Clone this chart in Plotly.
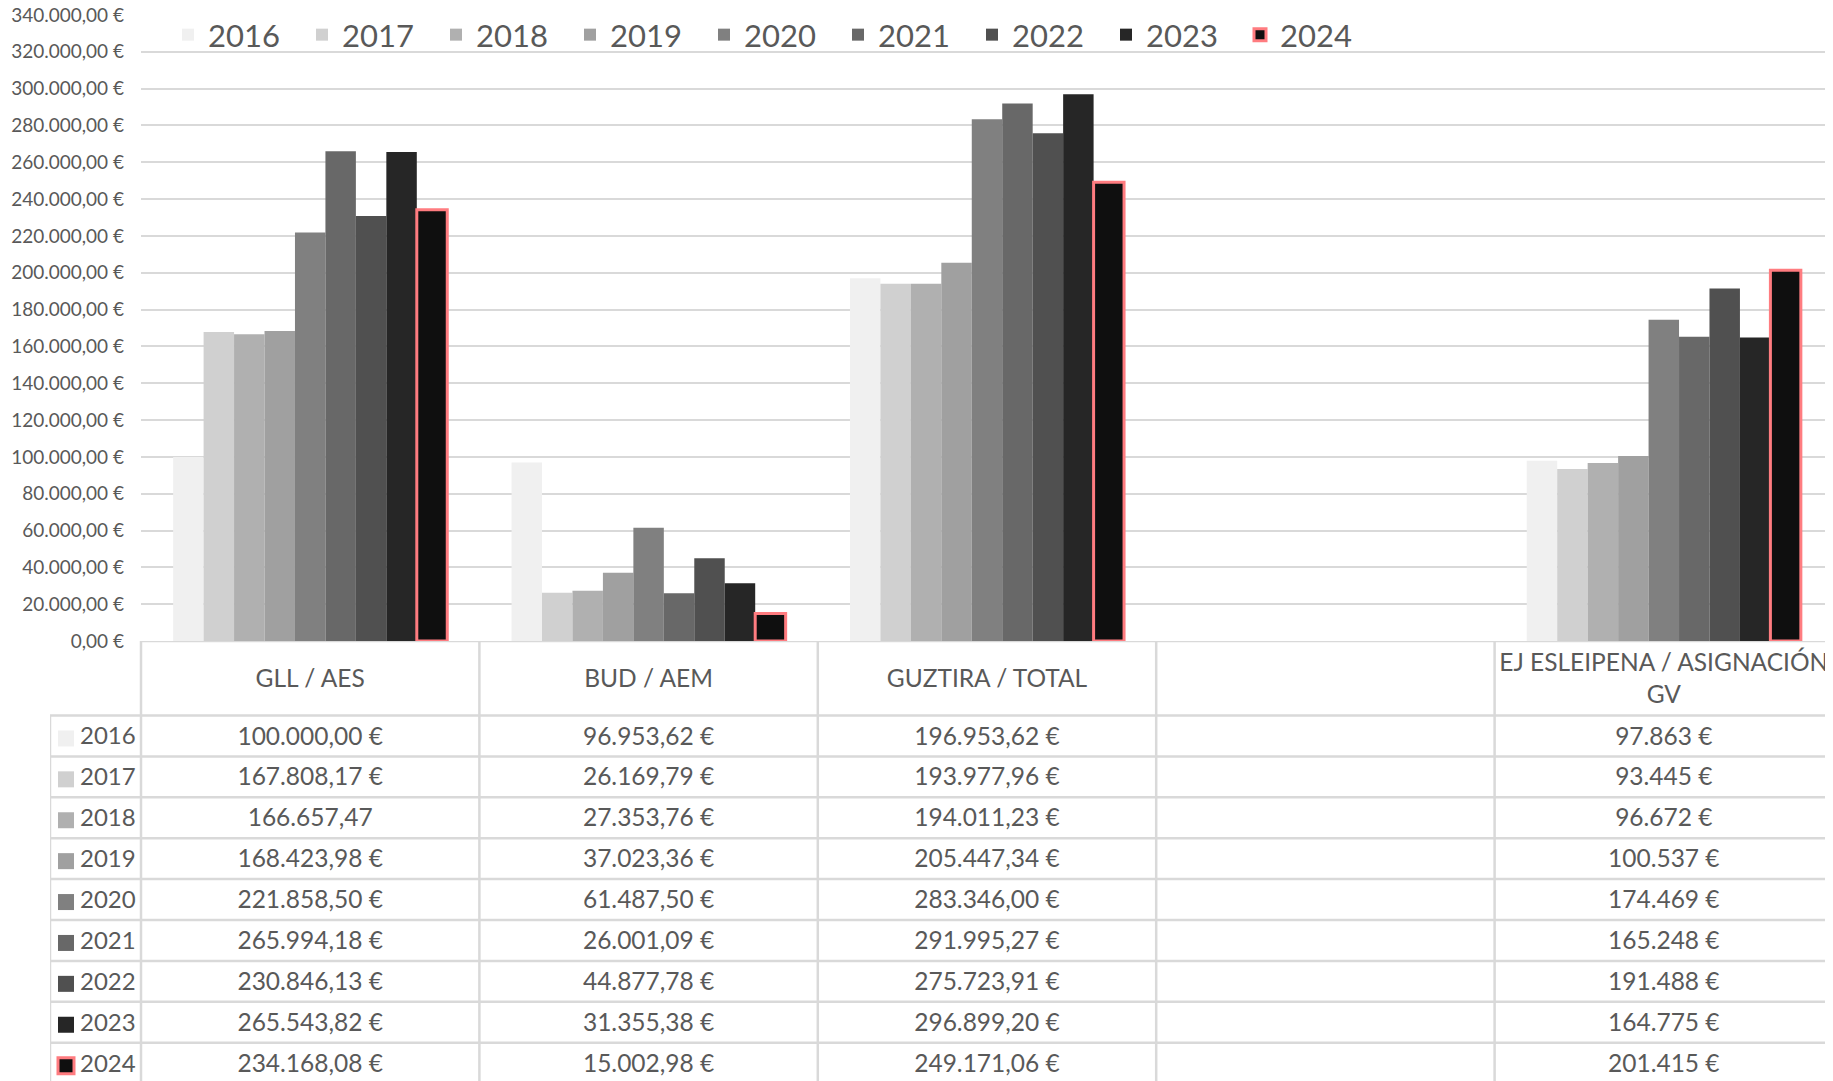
import plotly.graph_objects as go

# data
years = ["2016", "2017", "2018", "2019", "2020", "2021", "2022", "2023", "2024"]
categories = ["GLL / AES", "BUD / AEM", "GUZTIRA / TOTAL", " ", "EJ ESLEIPENA / ASIGNACIÓN<br>GV"]

gll_aes = [100000.00, 167808.17, 166657.47, 168423.98, 221858.50, 265994.18, 230846.13, 265543.82, 234168.08]
bud_aem = [96953.62, 26169.79, 27353.76, 37023.36, 61487.50, 26001.09, 44877.78, 31355.38, 15002.98]
guztira = [196953.62, 193977.96, 194011.23, 205447.34, 283346.00, 291995.27, 275723.91, 296899.20, 249171.06]
ej_gv = [97863, 93445, 96672, 100537, 174469, 165248, 191488, 164775, 201415]

colors = ["#f0f0f0", "#d0d0d0", "#b0b0b0", "#a0a0a0", "#808080", "#686868", "#505050", "#262626", "#0f0f0f"]
hl_border = "#ff7c80"

W, H = 1833, 1081
OFF = 8  # page body margin
FW, FH = W - OFF, H - OFF
FONT = "Lato"
TXT = "#595959"
GRID = "#d9d9d9"

# table geometry (screen px)
AX_L = 141      # left of plot area
TAB_L = 50      # left of year column
ZERO_Y = 641    # y of value 0 / top of table
HDR_H = 74.5    # header row height
ROW_H = 40.9    # data row height
CAT_W = (W - AX_L) / 5
TEXT_DY = 2.5 / ROW_H  # small nudge down for cell text


def eur(v, dec=2, sign=True):
    s = f"{v:,.{dec}f}".replace(",", "X").replace(".", ",").replace("X", ".")
    return s + " €" if sign else s


def px_x(p):
    return (p - OFF) / FW


def px_y(p):
    return 1 - (p - OFF) / FH


def tab_x(p):
    return -0.5 + (p - AX_L) / CAT_W


fig = go.Figure()

for i, yr in enumerate(years):
    last = yr == "2024"
    fig.add_trace(go.Bar(
        name=yr,
        x=categories,
        y=[gll_aes[i], bud_aem[i], guztira[i], None, ej_gv[i]],
        marker=dict(color=colors[i],
                    line=dict(color=hl_border if last else colors[i], width=3 if last else 0)),
    ))

# ---- data table under the chart, on its own axes (x2 / y2) ----
columns = [
    [eur(v, sign=(y != "2018")) for v, y in zip(gll_aes, years)],
    [eur(v) for v in bud_aem],
    [eur(v) for v in guztira],
    ["" for _ in years],
    [eur(v, 0) for v in ej_gv],
]
hdr = HDR_H / ROW_H
rows = [i + 0.5 for i in range(len(years))]
text_rows = [r + TEXT_DY for r in rows]
tfont = dict(family=FONT, size=24.5, color=TXT)

# header labels
fig.add_trace(go.Scatter(x=list(range(len(categories))), y=[-hdr / 2 + TEXT_DY] * len(categories),
                         text=[c.strip() for c in categories], mode="text",
                         textposition="middle center", textfont=tfont,
                         xaxis="x2", yaxis="y2", showlegend=False, hoverinfo="skip",
                         cliponaxis=False))
# cell values
for j, col in enumerate(columns):
    fig.add_trace(go.Scatter(x=[j] * len(years), y=text_rows, text=col, mode="text",
                             textposition="middle center", textfont=tfont,
                             xaxis="x2", yaxis="y2", showlegend=False, hoverinfo="skip",
                             cliponaxis=False))
# legend keys + years in the first column
fig.add_trace(go.Scatter(x=[tab_x(66)] * len(years), y=text_rows, mode="markers",
                         marker=dict(symbol="square", size=16, color=colors,
                                     line=dict(color=[c if y != "2024" else hl_border
                                                      for c, y in zip(colors, years)],
                                               width=[0] * (len(years) - 1) + [3])),
                         xaxis="x2", yaxis="y2", showlegend=False, hoverinfo="skip",
                         cliponaxis=False))
fig.add_trace(go.Scatter(x=[tab_x(80)] * len(years), y=text_rows, text=years, mode="text",
                         textposition="middle right", textfont=dict(family=FONT, size=24, color=TXT),
                         xaxis="x2", yaxis="y2", showlegend=False, hoverinfo="skip",
                         cliponaxis=False))

# table borders
x_left = tab_x(TAB_L)
x_right = len(categories) + 0.5
line = dict(color=GRID, width=2.5)
fig.add_shape(type="line", xref="x2", yref="y2", x0=-0.5, x1=x_right, y0=-hdr, y1=-hdr, line=line)
for r in range(len(years) + 1):
    fig.add_shape(type="line", xref="x2", yref="y2", x0=x_left, x1=x_right, y0=r, y1=r, line=line)
fig.add_shape(type="line", xref="x2", yref="y2", x0=x_left, x1=x_left, y0=0, y1=len(years) + 1, line=line)
for c in range(len(categories) + 1):
    fig.add_shape(type="line", xref="x2", yref="y2", x0=c - 0.5, x1=c - 0.5, y0=-hdr,
                  y1=len(years) + 1, line=line)

fig.update_layout(
    width=FW, height=FH,
    margin=dict(l=0, r=0, t=0, b=0),
    paper_bgcolor="white", plot_bgcolor="white",
    separators=",.",
    barmode="group", bargap=0.19, bargroupgap=0,
    font=dict(family=FONT, color=TXT),
    showlegend=True,
    legend=dict(orientation="h", x=px_x(168), xanchor="left", y=1, yanchor="top",
                font=dict(size=31, color=TXT), entrywidth=89, bgcolor="rgba(0,0,0,0)",
                traceorder="normal"),
    xaxis=dict(domain=[px_x(AX_L), 1], showticklabels=False, showgrid=False, zeroline=False,
               showline=False, ticks="", categoryorder="array", categoryarray=categories,
               range=[-0.5, 4.5], fixedrange=True),
    yaxis=dict(domain=[px_y(ZERO_Y), px_y(15)], range=[0, 340000], dtick=20000,
               tickformat=",.2f", ticksuffix=" €", showgrid=True, gridcolor=GRID, gridwidth=2,
               zeroline=False, showline=False, automargin=False, ticklabelstandoff=16,
               ticklabeloverflow="allow",
               tickfont=dict(family=FONT, size=19, color=TXT)),
    xaxis2=dict(domain=[px_x(TAB_L), 1], range=[x_left, 4.5], visible=False, fixedrange=True),
    yaxis2=dict(domain=[0, px_y(ZERO_Y)], range=[(H - ZERO_Y - HDR_H) / ROW_H, -hdr],
                visible=False, fixedrange=True),
)

fig.write_html("out.html")
